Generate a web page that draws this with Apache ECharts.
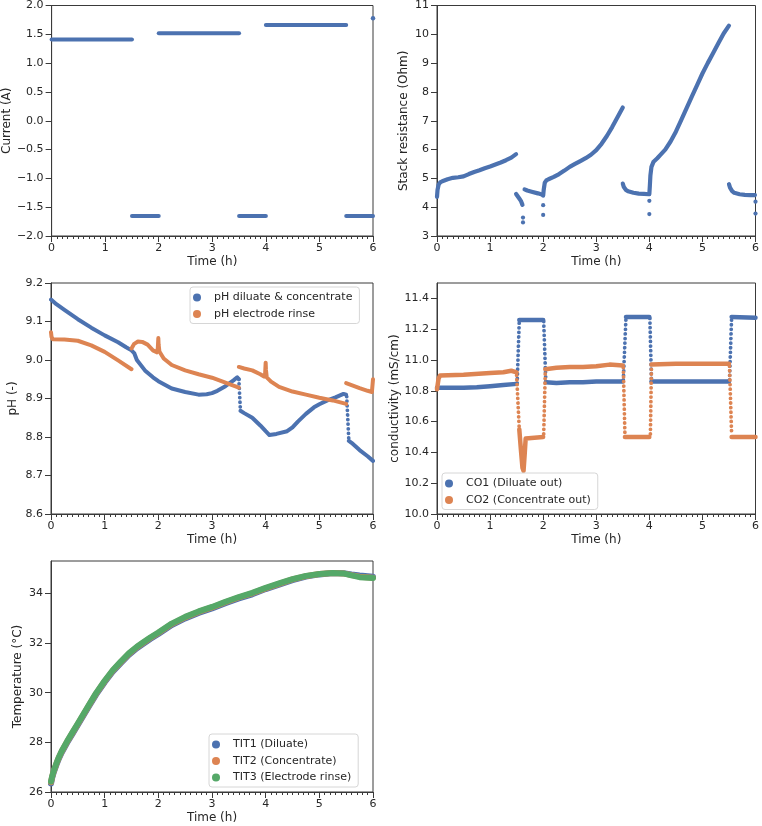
<!DOCTYPE html>
<html><head><meta charset="utf-8">
<script src="https://cdn.jsdelivr.net/npm/echarts@6/dist/echarts.min.js"></script>
<style>html,body{margin:0;padding:0;background:#fff}#c{width:762px;height:826px}</style>
</head><body><div id="c"></div>
<script>
// ---------------- DATA (time in h) ----------------
const timeTicks = [0, 1, 2, 3, 4, 5, 6];
const currentTicks = [-2, -1.5, -1, -0.5, 0, 0.5, 1, 1.5, 2];
const resistanceTicks = [3, 4, 5, 6, 7, 8, 9, 10, 11];
const phTicks = [8.6, 8.7, 8.8, 8.9, 9.0, 9.1, 9.2];
const condTicks = [10.0, 10.2, 10.4, 10.6, 10.8, 11.0, 11.2, 11.4];
const tempTicks = [26, 28, 30, 32, 34];

// Current (A)
const currentSegments = [
  [[0, 1.41], [1.5, 1.41]],
  [[1.5, -1.655], [2.0, -1.655]],
  [[2.0, 1.52], [3.5, 1.52]],
  [[3.5, -1.655], [4.0, -1.655]],
  [[4.0, 1.66], [5.5, 1.66]],
  [[5.5, -1.655], [6.0, -1.655]]
];
const currentDots = [[6.0, 1.78]];

// Stack resistance (Ohm)
const resistanceSegments = [
  [[0, 4.36], [0.01, 4.6], [0.03, 4.78], [0.06, 4.86], [0.1, 4.9], [0.2, 4.97], [0.3, 5.02], [0.4, 5.04], [0.5, 5.07], [0.6, 5.15], [0.7, 5.22], [0.8, 5.28], [0.9, 5.35], [1.0, 5.41], [1.1, 5.48], [1.2, 5.55], [1.3, 5.63], [1.4, 5.72], [1.49, 5.84]],
  [[1.49, 4.46], [1.52, 4.38], [1.55, 4.3], [1.58, 4.22], [1.61, 4.08]],
  [[1.65, 4.62], [1.7, 4.58], [1.8, 4.53], [1.9, 4.48], [1.99, 4.43]],
  [[2.0, 4.4], [2.01, 4.6], [2.03, 4.85], [2.06, 4.93], [2.1, 4.97], [2.2, 5.05], [2.3, 5.15], [2.4, 5.27], [2.5, 5.4], [2.6, 5.5], [2.7, 5.6], [2.8, 5.7], [2.9, 5.82], [3.0, 5.98], [3.1, 6.2], [3.2, 6.47], [3.3, 6.78], [3.4, 7.12], [3.5, 7.46]],
  [[3.5, 4.82], [3.52, 4.7], [3.56, 4.6], [3.6, 4.55], [3.7, 4.5], [3.8, 4.47], [3.9, 4.46], [3.99, 4.45]],
  [[4.0, 4.45], [4.01, 4.75], [4.02, 5.1], [4.04, 5.4], [4.08, 5.58], [4.15, 5.7], [4.2, 5.8], [4.3, 6.0], [4.4, 6.28], [4.5, 6.62], [4.6, 7.02], [4.7, 7.43], [4.8, 7.84], [4.9, 8.24], [5.0, 8.64], [5.1, 9.0], [5.2, 9.34], [5.3, 9.69], [5.4, 10.03], [5.5, 10.3]],
  [[5.5, 4.8], [5.52, 4.68], [5.56, 4.56], [5.6, 4.5], [5.7, 4.45], [5.8, 4.43], [5.9, 4.42], [5.99, 4.42]]
];
const resistanceDots = [[1.62, 3.64], [1.62, 3.47], [2.0, 4.07], [2.0, 3.73], [4.0, 4.22], [4.0, 3.76], [6.0, 4.19], [6.0, 3.78]];

// pH
const phDiluateSegments = [
  [[0, 9.157], [0.1, 9.145], [0.25, 9.13], [0.5, 9.106], [0.75, 9.084], [1.0, 9.064], [1.25, 9.046], [1.4, 9.033], [1.5, 9.025], [1.55, 9.018], [1.6, 9.0], [1.75, 8.973], [1.9, 8.955], [2.0, 8.945], [2.25, 8.926], [2.5, 8.917], [2.75, 8.91], [2.9, 8.911], [3.0, 8.914], [3.1, 8.92], [3.25, 8.932], [3.4, 8.947], [3.47, 8.955], [3.5, 8.95]],
  [[3.53, 8.868], [3.6, 8.862], [3.75, 8.85], [3.9, 8.83], [4.0, 8.815], [4.07, 8.805], [4.2, 8.808], [4.4, 8.815], [4.5, 8.825], [4.6, 8.84], [4.75, 8.86], [4.9, 8.877], [5.0, 8.885], [5.15, 8.895], [5.3, 8.903], [5.45, 8.912], [5.5, 8.91]],
  [[5.55, 8.79], [5.6, 8.785], [5.75, 8.766], [5.9, 8.75], [6.0, 8.738]]
];
const phDiluateDrops = [
  [[3.5, 8.95], [3.53, 8.868]],
  [[5.51, 8.905], [5.55, 8.79]]
];
const phRinseSegments = [
  [[0, 9.072], [0.01, 9.06], [0.03, 9.054], [0.25, 9.053], [0.5, 9.05], [0.75, 9.038], [1.0, 9.021], [1.25, 8.999], [1.5, 8.976]],
  [[1.5, 9.03], [1.55, 9.042], [1.62, 9.048], [1.7, 9.047], [1.8, 9.04], [1.9, 9.025], [1.97, 9.02], [1.99, 9.03], [2.0, 9.057], [2.005, 9.04], [2.02, 9.022], [2.1, 9.004], [2.25, 8.987], [2.5, 8.973], [2.75, 8.963], [3.0, 8.954], [3.25, 8.941], [3.5, 8.928]],
  [[3.5, 8.982], [3.6, 8.978], [3.75, 8.973], [3.9, 8.963], [3.97, 8.957], [3.99, 8.965], [4.0, 8.993], [4.005, 8.975], [4.02, 8.955], [4.1, 8.944], [4.25, 8.93], [4.5, 8.918], [4.75, 8.91], [5.0, 8.902], [5.25, 8.895], [5.5, 8.886]],
  [[5.5, 8.94], [5.6, 8.935], [5.75, 8.927], [5.9, 8.92], [5.98, 8.917], [6.0, 8.95]]
];

// Conductivity (mS/cm)
const co1Segments = [
  [[0, 10.82], [0.25, 10.82], [0.5, 10.82], [0.75, 10.823], [1.0, 10.83], [1.25, 10.838], [1.5, 10.845]],
  [[1.55, 11.26], [2.0, 11.26]],
  [[2.05, 10.855], [2.25, 10.85], [2.5, 10.855], [2.75, 10.855], [3.0, 10.86], [3.5, 10.86]],
  [[3.56, 11.28], [3.75, 11.28], [4.0, 11.28]],
  [[4.04, 10.86], [5.0, 10.86], [5.5, 10.86]],
  [[5.55, 11.28], [6.0, 11.275]]
];
const co1Transitions = [
  [[1.51, 10.85], [1.55, 11.255]],
  [[2.01, 11.25], [2.05, 10.86]],
  [[3.51, 10.87], [3.56, 11.275]],
  [[4.01, 11.27], [4.04, 10.87]],
  [[5.51, 10.87], [5.55, 11.275]]
];
const co2Segments = [
  [[0, 10.81], [0.03, 10.88], [0.06, 10.9], [0.5, 10.905], [1.0, 10.915], [1.25, 10.92], [1.4, 10.93], [1.5, 10.92]],
  [[1.55, 10.55], [1.58, 10.42], [1.61, 10.3], [1.63, 10.28], [1.65, 10.38], [1.67, 10.49], [1.69, 10.5], [2.0, 10.5]],
  [[2.04, 10.94], [2.25, 10.95], [2.5, 10.955], [2.75, 10.955], [3.0, 10.96], [3.25, 10.97], [3.5, 10.965]],
  [[3.54, 10.5], [4.0, 10.5]],
  [[4.04, 10.97], [4.5, 10.975], [5.0, 10.975], [5.5, 10.975]],
  [[5.55, 10.5], [6.0, 10.5]]
];
const co2Transitions = [
  [[1.5, 10.9], [1.55, 10.55]],
  [[2.01, 10.52], [2.04, 10.93]],
  [[3.51, 10.95], [3.54, 10.52]],
  [[4.02, 10.52], [4.04, 10.96]],
  [[5.51, 10.96], [5.55, 10.52]]
];

// Temperature (°C)
const tit1 = [[0, 26.34], [0.02, 26.55], [0.05, 26.79], [0.1, 27.09], [0.15, 27.36], [0.2, 27.59], [0.3, 27.98], [0.4, 28.34], [0.5, 28.7], [0.6, 29.06], [0.7, 29.42], [0.84, 29.92], [1.0, 30.42], [1.15, 30.84], [1.3, 31.19], [1.45, 31.52], [1.6, 31.79], [1.7, 31.94], [1.85, 32.16], [2.0, 32.36], [2.25, 32.72], [2.5, 32.99], [2.75, 33.21], [3.0, 33.39], [3.25, 33.6], [3.5, 33.79], [3.75, 33.96], [4.0, 34.17], [4.25, 34.35], [4.5, 34.53], [4.75, 34.67], [5.0, 34.76], [5.25, 34.82], [5.45, 34.81], [5.6, 34.76], [5.75, 34.72], [6.0, 34.67]];
const tit2 = [[0, 26.39], [0.02, 26.6], [0.05, 26.83], [0.1, 27.13], [0.15, 27.4], [0.2, 27.63], [0.3, 28.02], [0.4, 28.38], [0.5, 28.74], [0.6, 29.1], [0.7, 29.46], [0.84, 29.96], [1.0, 30.46], [1.15, 30.88], [1.3, 31.23], [1.45, 31.56], [1.6, 31.83], [1.7, 31.98], [1.85, 32.2], [2.0, 32.4], [2.25, 32.76], [2.5, 33.03], [2.75, 33.25], [3.0, 33.43], [3.25, 33.64], [3.5, 33.83], [3.75, 34.0], [4.0, 34.2], [4.25, 34.38], [4.5, 34.56], [4.75, 34.69], [5.0, 34.78], [5.25, 34.82], [5.45, 34.8], [5.6, 34.73], [5.75, 34.67], [6.0, 34.63]];
const tit3 = [[0, 26.42], [0.02, 26.62], [0.05, 26.85], [0.1, 27.15], [0.15, 27.42], [0.2, 27.65], [0.3, 28.04], [0.4, 28.4], [0.5, 28.76], [0.6, 29.12], [0.7, 29.48], [0.84, 29.98], [1.0, 30.48], [1.15, 30.9], [1.3, 31.25], [1.45, 31.58], [1.6, 31.85], [1.7, 32.0], [1.85, 32.22], [2.0, 32.42], [2.25, 32.78], [2.5, 33.05], [2.75, 33.27], [3.0, 33.45], [3.25, 33.66], [3.5, 33.85], [3.75, 34.02], [4.0, 34.22], [4.25, 34.4], [4.5, 34.57], [4.75, 34.7], [5.0, 34.78], [5.25, 34.82], [5.45, 34.8], [5.6, 34.72], [5.75, 34.65], [6.0, 34.62]];

// ---------------- STYLE ----------------
const FONT = 'DejaVu Sans';
const INK = '#262626';
const AX = '#3a3a3a';
const BLUE = '#4c72b0', ORANGE = '#dd8452', GREEN = '#55a868';

const grids = [
  {left: 51, top: 4, width: 322, height: 232},
  {left: 437, top: 4, width: 321, height: 232},
  {left: 51, top: 283, width: 322, height: 231},
  {left: 437, top: 283, width: 321, height: 231},
  {left: 51, top: 561, width: 322, height: 231}
].map(g => Object.assign({show: true, borderColor: AX, borderWidth: 1, backgroundColor: 'transparent', containLabel: false}, g));

function xAxisFor(gi) {
  return {
    type: 'value', gridIndex: gi, min: timeTicks[0], max: timeTicks[timeTicks.length - 1], interval: 1,
    name: 'Time (h)', nameLocation: 'middle', nameGap: 20,
    nameTextStyle: {fontFamily: FONT, fontSize: 12, color: INK},
    axisLine: {show: true, onZero: false, lineStyle: {color: AX, width: 1}},
    axisTick: {show: true, length: 6, lineStyle: {color: AX, width: 1}},
    minorTick: {show: true, splitNumber: 10, length: 3, lineStyle: {color: AX, width: 1}},
    axisLabel: {fontFamily: FONT, fontSize: 11, color: INK, margin: 7},
    splitLine: {show: false}, minorSplitLine: {show: false}
  };
}
const fmtMinus = d => v => v.toFixed(d).replace('-', '\u2212');
function yAxisFor(gi, name, nameGap, min, max, ticks, dec) {
  return {
    type: 'value', gridIndex: gi, min, max,
    name, nameLocation: 'middle', nameGap,
    nameTextStyle: {fontFamily: FONT, fontSize: 12, color: INK},
    axisLine: {show: true, onZero: false, lineStyle: {color: AX, width: 1}},
    axisTick: {show: true, length: 6, lineStyle: {color: AX, width: 1}, customValues: ticks},
    axisLabel: {fontFamily: FONT, fontSize: 11, color: INK, margin: 8, customValues: ticks, formatter: fmtMinus(dec)},
    splitLine: {show: false}
  };
}

const series = [];
function addLine(name, data, color, gi, width, dotted) {
  series.push({
    type: 'line', name, xAxisIndex: gi, yAxisIndex: gi, data,
    symbol: 'none', showSymbol: false, silent: true, animation: false, clip: true,
    itemStyle: {color},
    lineStyle: {color, width, cap: 'round', join: 'round', type: dotted ? [0.01, 4.6] : 'solid'}
  });
}
function addDots(name, data, color, gi, size) {
  series.push({
    type: 'scatter', name, xAxisIndex: gi, yAxisIndex: gi, data,
    symbol: 'circle', symbolSize: size, silent: true, animation: false,
    itemStyle: {color, opacity: 1}
  });
}

// Grid 0: current
currentSegments.forEach(s => addLine('Current', s, BLUE, 0, 4, false));
addDots('Current', currentDots, BLUE, 0, 4.5);
// Grid 1: resistance
resistanceSegments.forEach(s => addLine('Resistance', s, BLUE, 1, 4.2, false));
addDots('Resistance', resistanceDots, BLUE, 1, 4.2);
// Grid 2: pH
const PH1 = 'pH diluate & concentrate', PH2 = 'pH electrode rinse';
phDiluateSegments.forEach(s => addLine(PH1, s, BLUE, 2, 4, false));
phDiluateDrops.forEach(s => addLine(PH1, s, BLUE, 2, 3.8, true));
phRinseSegments.forEach(s => addLine(PH2, s, ORANGE, 2, 4, false));
// Grid 3: conductivity
const C1 = 'CO1 (Diluate out)', C2 = 'CO2 (Concentrate out)';
co1Segments.forEach(s => addLine(C1, s, BLUE, 3, 4.5, false));
co1Transitions.forEach(s => addLine(C1, s, BLUE, 3, 3.8, true));
co2Segments.forEach(s => addLine(C2, s, ORANGE, 3, 4.5, false));
co2Transitions.forEach(s => addLine(C2, s, ORANGE, 3, 3.8, true));
// Grid 4: temperature
const T1 = 'TIT1 (Diluate)', T2 = 'TIT2 (Concentrate)', T3 = 'TIT3 (Electrode rinse)';
addLine(T1, tit1, BLUE, 4, 6, false);
addLine(T2, tit2, ORANGE, 4, 6, false);
addLine(T3, tit3, GREEN, 4, 6, false);

function legendFor(names, colors, left, top) {
  return {
    show: true, orient: 'vertical', left, top,
    data: names.map((n, i) => ({name: n, icon: 'circle', itemStyle: {color: colors[i]}})),
    itemWidth: 24, itemHeight: 8, itemGap: 3.5,
    padding: [4, 7, 3, 3],
    backgroundColor: 'rgba(255,255,255,0.85)', borderColor: '#d6d6d6', borderWidth: 1, borderRadius: 3,
    textStyle: {fontFamily: FONT, fontSize: 11, color: INK, lineHeight: 13},
    selectedMode: false
  };
}

const option = {
  animation: false,
  backgroundColor: '#fff',
  textStyle: {fontFamily: FONT},
  grid: grids,
  xAxis: [0, 1, 2, 3, 4].map(xAxisFor),
  yAxis: [
    yAxisFor(0, 'Current (A)', 38, -2, 2, currentTicks, 1),
    yAxisFor(1, 'Stack resistance (Ohm)', 27, 3, 11, resistanceTicks, 0),
    yAxisFor(2, 'pH (-)', 32, 8.6, 9.2, phTicks, 1),
    yAxisFor(3, 'conductivity (mS/cm)', 35, 10.0, 11.5, condTicks, 1),
    yAxisFor(4, 'Temperature (°C)', 27, 26, 35.3, tempTicks, 0)
  ],
  legend: [
    legendFor([PH1, PH2], [BLUE, ORANGE], 190, 287),
    legendFor([C1, C2], [BLUE, ORANGE], 442, 473),
    legendFor([T1, T2, T3], [BLUE, ORANGE, GREEN], 209, 734)
  ],
  series
};
const chart = echarts.init(document.getElementById('c'), null, {renderer: 'canvas'});
chart.setOption(option);
</script></body></html>
